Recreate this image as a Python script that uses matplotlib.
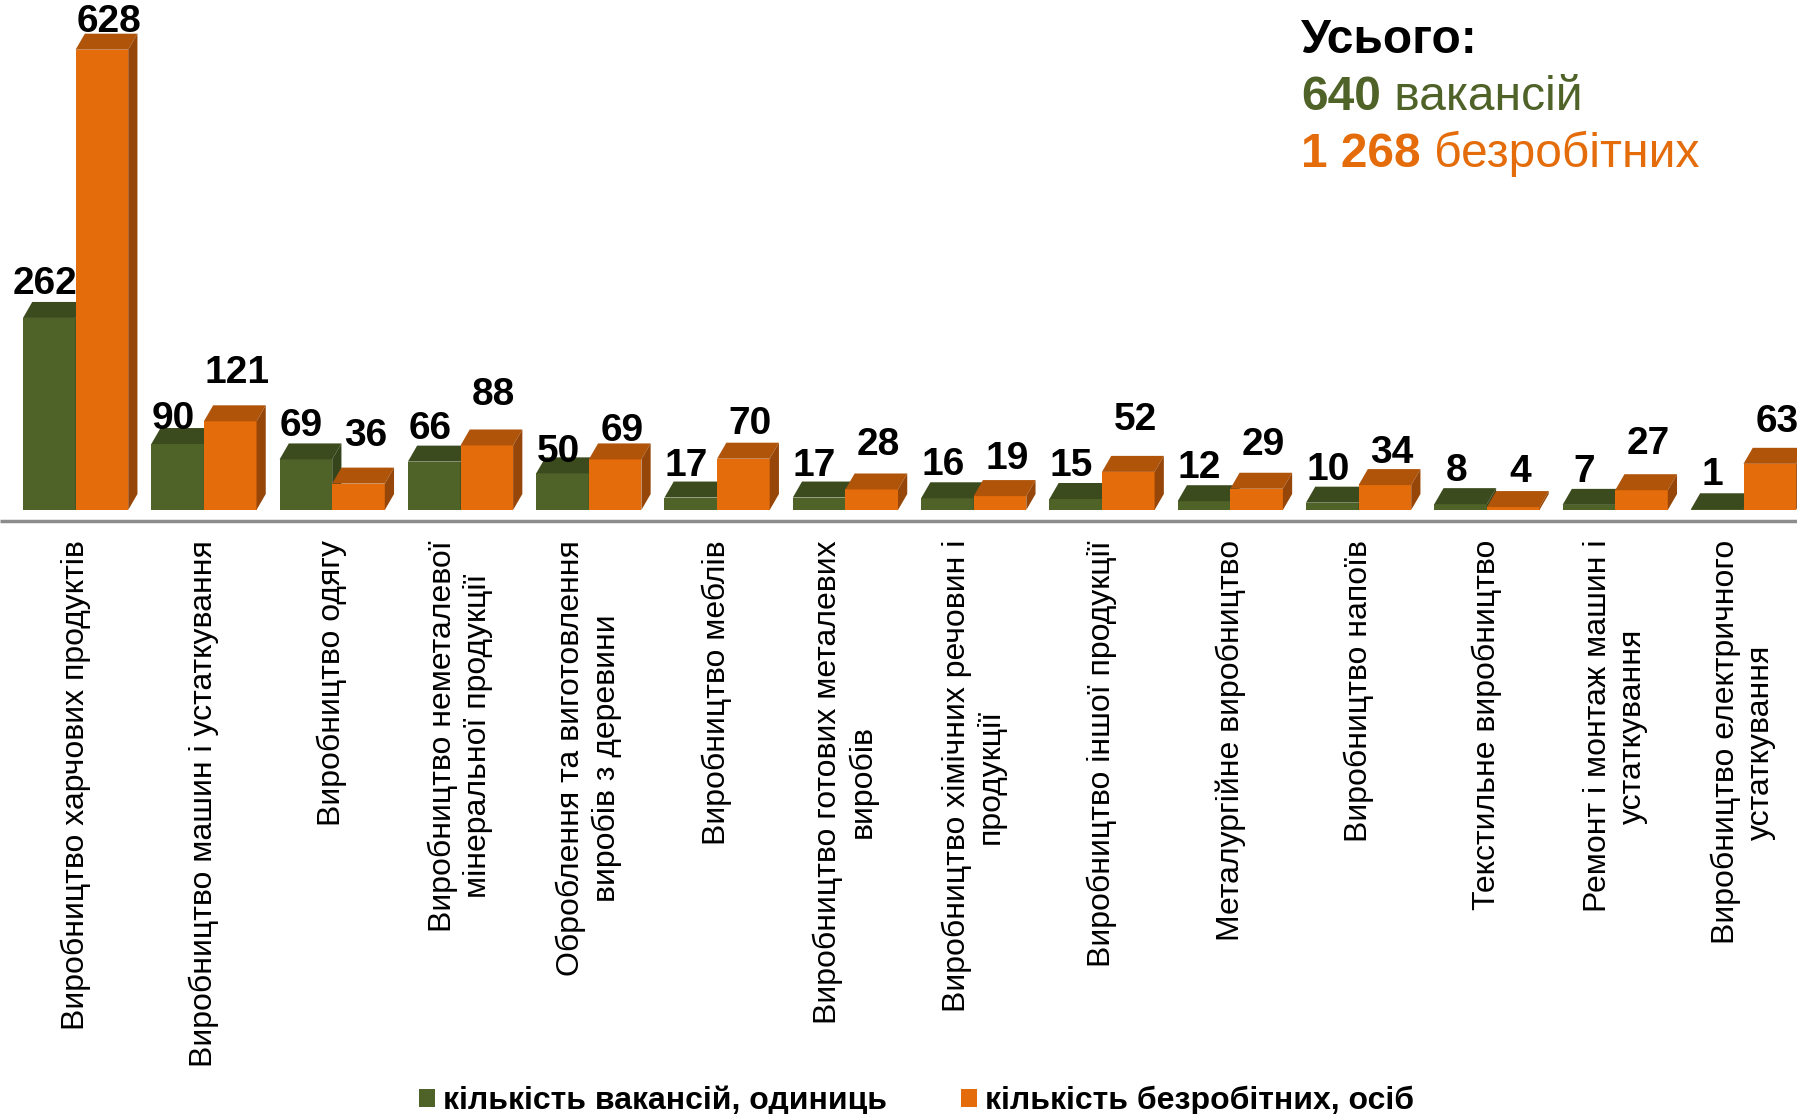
import matplotlib.pyplot as plt
from matplotlib.patches import Polygon, Patch

# Data
categories = [
    "Виробництво харчових продуктів",
    "Виробництво машин і устаткування",
    "Виробництво одягу",
    "Виробництво неметалевої\nмінеральної продукції",
    "Оброблення та виготовлення\nвиробів з деревини",
    "Виробництво меблів",
    "Виробництво готових металевих\nвиробів",
    "Виробництво хімічних речовин і\nпродукції",
    "Виробництво іншої продукції",
    "Металургійне виробництво",
    "Виробництво напоїв",
    "Текстильне виробництво",
    "Ремонт і монтаж машин і\nустаткування",
    "Виробництво електричного\nустаткування",
]
vacancies = [262, 90, 69, 66, 50, 17, 17, 16, 15, 12, 10, 8, 7, 1]
unemployed = [628, 121, 36, 88, 69, 70, 28, 19, 52, 29, 34, 4, 27, 63]
series_names = ["кількість вакансій, одиниць", "кількість безробітних, осіб"]
total_title = "Усього:"
total_vac = ("640", " вакансій")
total_unemp = ("1 268", " безробітних")

# value label lift above the bar top, in pixels (the original labels are not evenly placed)
lift_vac = [18, 9, 17, 17, 5, 16, 16, 17, 17, 17, 17, 17, 17, 18]
lift_unemp = [12, 32, 32, 34, 12, 19, 28, 21, 36, 28, 16, 19, 30, 26]

# Colours: front, top, side
green = ("#4F6228", "#3C4B1E", "#36441B")
orange = ("#E46C0A", "#B0540A", "#964608")

plt.rcParams['font.family'] = ['Liberation Sans', 'DejaVu Sans']

W, H = 1797, 1114
fig = plt.figure(figsize=(W / 100, H / 100), dpi=100)

# axes in pixel terms: top 0, bottom 540 px; baseline at 510 px
px_per_unit = 0.733
ax_h_px = 540
ax = fig.add_axes([0, 1 - ax_h_px / H, 1, ax_h_px / H])
group_px = 128.3
x0_px = 75.6
ax.set_xlim(-x0_px / group_px, (W - x0_px) / group_px)
ax.set_ylim(-(ax_h_px - 510) / px_per_unit, 510 / px_per_unit)
for s in ax.spines.values():
    s.set_visible(False)
ax.set_yticks([])

bw = 0.41
dx = 0.072
dy = 16 / px_per_unit


def draw_bar3d(ax, left, h, colors, z, label_dx, label_lift):
    front, top, side = colors
    ax.bar(left, h, width=bw, align='edge', color=front, zorder=z, linewidth=0)
    right = left + bw
    ax.add_patch(Polygon([(left, h), (right, h), (right + dx, h + dy), (left + dx, h + dy)],
                         closed=True, facecolor=top, edgecolor='none', zorder=z))
    ax.add_patch(Polygon([(right, 0), (right + dx, dy), (right + dx, h + dy), (right, h)],
                         closed=True, facecolor=side, edgecolor='none', zorder=z))
    ax.annotate(str(h), xy=(left + bw / 2, h + dy), xytext=(label_dx, label_lift),
                textcoords='offset pixels', ha='center', va='center',
                fontsize=28, fontweight='bold', zorder=20, annotation_clip=False)


for i, (v, u) in enumerate(zip(vacancies, unemployed)):
    draw_bar3d(ax, i - bw, v, green, 3 + 2 * i, -4.5, lift_vac[i])
    draw_bar3d(ax, i, u, orange, 4 + 2 * i, 7, lift_unemp[i])

# floor line
ax.plot(ax.get_xlim(), [-15, -15], color="#8C8C8C", lw=2.5, zorder=1, solid_capstyle='butt')

ax.set_xticks(range(len(categories)))
ax.set_xticklabels(categories, rotation=90, ha='center', va='top',
                   multialignment='center', fontsize=23)
ax.tick_params(axis='x', length=0, pad=0)

# totals block
fs = 34.5
fig.text(1301 / W, 1 - 53 / H, total_title, fontsize=fs, fontweight='bold',
         color='black', va='baseline', ha='left')
t1 = fig.text(1301 / W, 1 - 110 / H, total_vac[0], fontsize=fs, fontweight='bold',
              color=green[0], va='baseline', ha='left')
t2 = fig.text(1301 / W, 1 - 167 / H, total_unemp[0], fontsize=fs, fontweight='bold',
              color=orange[0], va='baseline', ha='left')
fig.canvas.draw()
r = fig.canvas.get_renderer()
for t, word, col, yb in [(t1, total_vac[1], green[0], 110), (t2, total_unemp[1], orange[0], 167)]:
    bb = t.get_window_extent(r)
    fig.text(bb.x1 / W, 1 - yb / H, word, fontsize=fs, color=col, va='baseline', ha='left')

# legend
handles = [Patch(facecolor=green[0]), Patch(facecolor=orange[0])]
fig.legend(handles, series_names, loc='lower center', bbox_to_anchor=(0.51, -0.028),
           ncol=2, frameon=False, handlelength=0.5, handleheight=0.5,
           handletextpad=0.25, columnspacing=2.3,
           prop={'family': ['Liberation Sans Narrow', 'Liberation Sans'],
                 'weight': 'bold', 'size': 23})

fig.savefig("out.png", dpi=100)
